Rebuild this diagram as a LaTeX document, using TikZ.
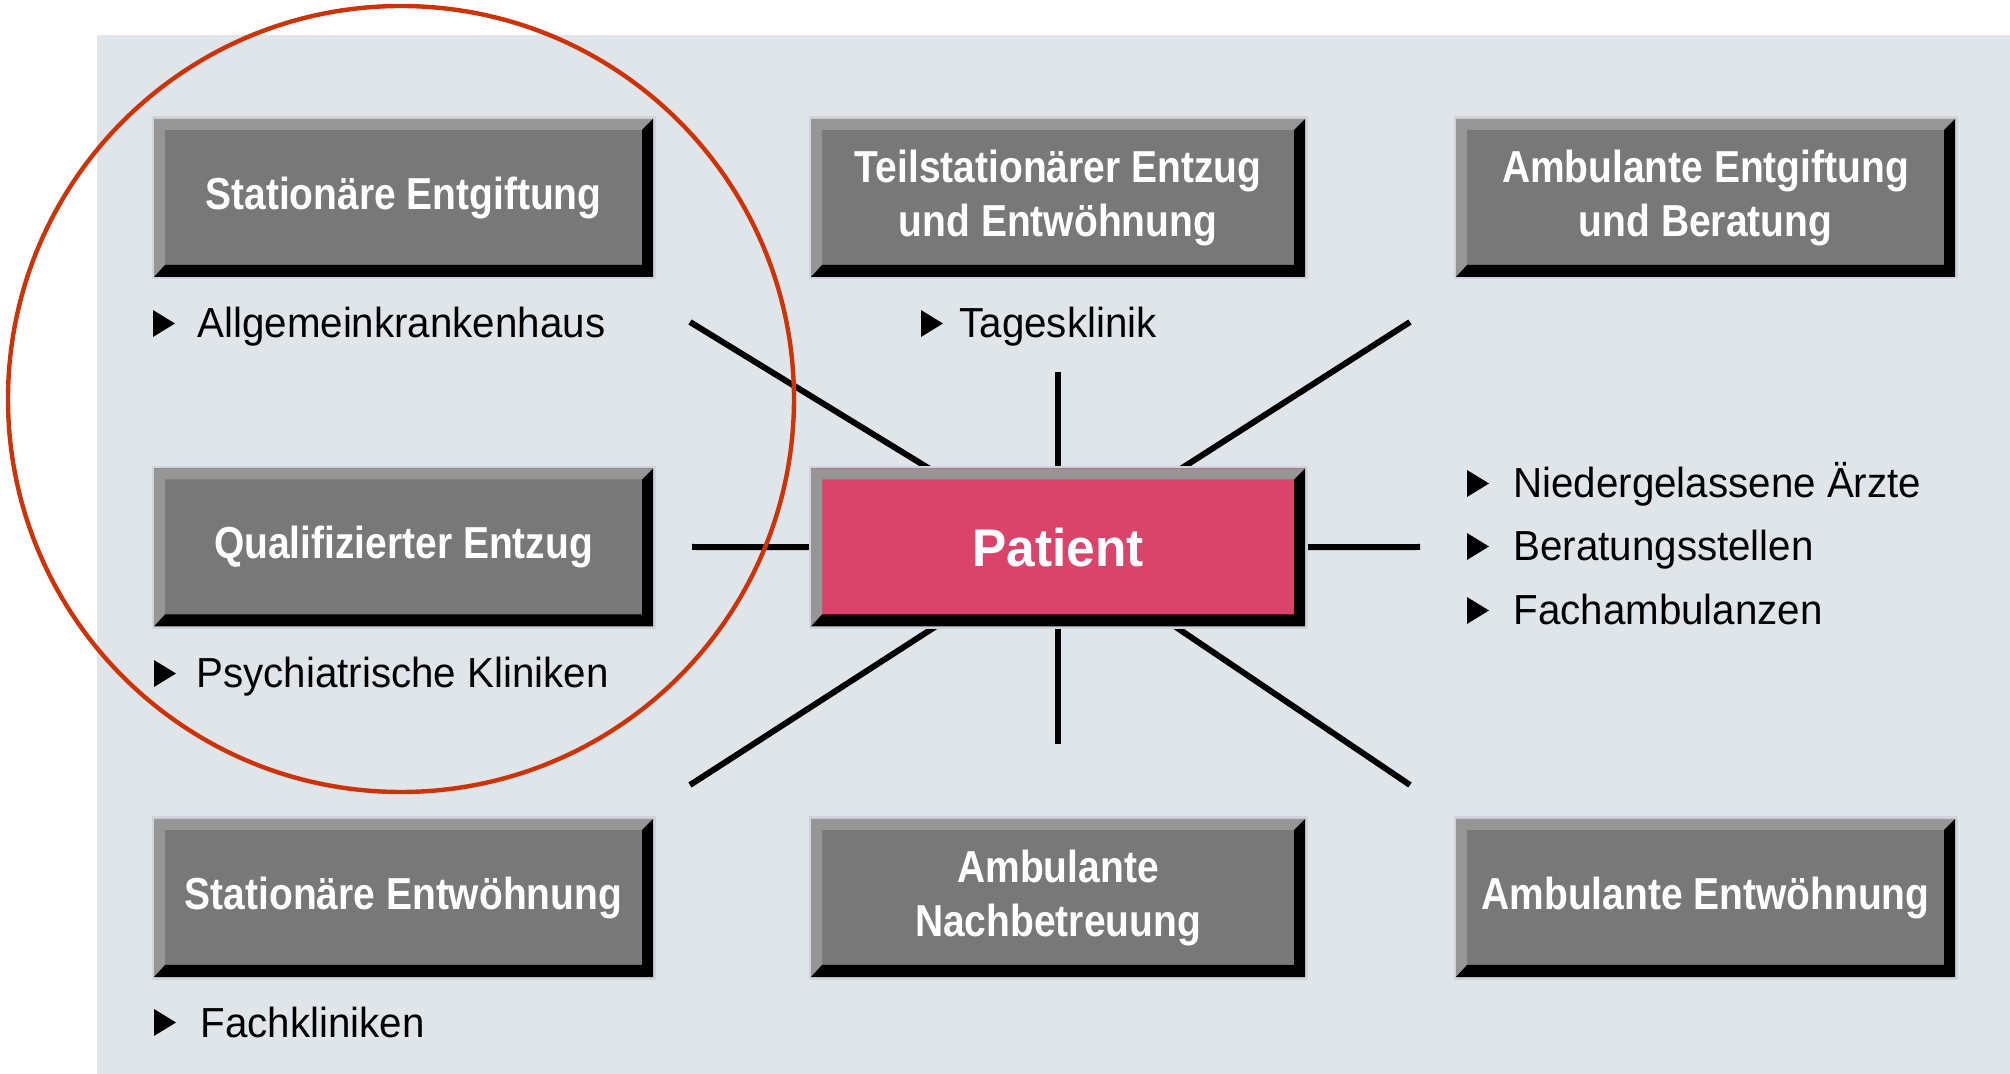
\documentclass[tikz,border=0pt]{standalone}
\usepackage{fontspec}
\setmainfont{Liberation Sans}
\newfontfamily\boxfont{Liberation Sans}[FakeStretch=0.87]
\newfontfamily\patfont{Liberation Sans}[FakeStretch=0.97]
\newfontfamily\listfont{Liberation Sans}[FakeStretch=0.96]
\definecolor{panel}{RGB}{224,229,233}
\definecolor{boxgray}{RGB}{120,120,120}
\definecolor{bevlight}{RGB}{150,150,150}
\definecolor{boxedge}{RGB}{208,212,216}
\definecolor{patpink}{RGB}{218,67,106}
\definecolor{ringred}{RGB}{204,52,8}
\tikzset{
  bevbox/.style={rectangle, inner sep=0pt, minimum width=249.5pt, minimum height=79pt,
    fill=boxgray, text=white, align=center,
    font=\boxfont\bfseries\fontsize{22.4}{27}\selectfont,
    preaction={draw=boxedge, line width=2.5pt},
    path picture={
      \fill[bevlight] (path picture bounding box.north west) -- (path picture bounding box.north east)
        -- ([xshift=-5.5pt,yshift=-5.5pt]path picture bounding box.north east)
        -- ([xshift=5.5pt,yshift=-5.5pt]path picture bounding box.north west)
        -- ([xshift=5.5pt,yshift=6pt]path picture bounding box.south west)
        -- (path picture bounding box.south west) -- cycle;
      \fill[black] (path picture bounding box.north east) -- (path picture bounding box.south east)
        -- (path picture bounding box.south west)
        -- ([xshift=5.5pt,yshift=6pt]path picture bounding box.south west)
        -- ([xshift=-5.5pt,yshift=6pt]path picture bounding box.south east)
        -- ([xshift=-5.5pt,yshift=-5.5pt]path picture bounding box.north east) -- cycle;
    }},
  patbox/.style={bevbox, fill=patpink, minimum width=247pt, font=\patfont\bfseries\fontsize{26.5}{30}\selectfont},
  spoke/.style={line width=3pt, black},
  listtext/.style={anchor=base west, inner sep=0pt, font=\listfont\fontsize{21}{25}\selectfont, text=black},
  bullet/.style={fill=black}
}
\newcommand\bulmark[2]{\fill[bullet] (#1,#2-28) -- (#1,#2-1) -- (#1+22,#2-14.5) -- cycle;}
\begin{document}
\begin{tikzpicture}[x=0.5pt,y=-0.5pt]
\useasboundingbox (0,0) rectangle (2010,1074);
\fill[white] (0,0) rectangle (2010,1074);
\fill[panel] (97,35) rectangle (2010,1074);

% spoke ends
\coordinate (eTL) at (690,322);
\coordinate (eT)  at (1058,372);
\coordinate (eTR) at (1410,322);
\coordinate (eL)  at (692,547);
\coordinate (eR)  at (1420,547);
\coordinate (eBL) at (690,785);
\coordinate (eB)  at (1058,744);
\coordinate (eBR) at (1410,785);
\coordinate (pc) at (1058,547.5);

\foreach \e in {eTL,eT,eTR,eL,eR,eBL,eB,eBR}
  \draw[spoke] (\e) -- (pc);

% boxes
\node[bevbox] (b1) at (403.5,198) {Stationäre Entgiftung};
\node[bevbox, minimum width=247pt] (b2) at (1058,198) {Teilstationärer Entzug\\und Entwöhnung};
\node[bevbox] (b3) at (1705.5,198) {Ambulante Entgiftung\\und Beratung};
\node[bevbox] (b4) at (403.5,547.5) {Qualifizierter Entzug};
\node[patbox] (patient) at (pc) {Patient};
\node[bevbox] (b6) at (403.5,898) {Stationäre Entwöhnung};
\node[bevbox, minimum width=247pt] (b7) at (1058,898) {Ambulante\\Nachbetreuung};
\node[bevbox] (b8) at (1705.5,898) {Ambulante Entwöhnung};

% lists
\bulmark{153}{338}
\node[listtext] (l1) at (197,338) {Allgemeinkrankenhaus};
\bulmark{921}{338}
\node[listtext] (l2) at (959,338) {Tagesklinik};
\bulmark{154}{688}
\node[listtext] (l3) at (196,688) {Psychiatrische Kliniken};
\bulmark{1467}{498}
\node[listtext] (l4) at (1513,498) {Niedergelassene Ärzte};
\bulmark{1467}{561}
\node[listtext] (l5) at (1513,561) {Beratungsstellen};
\bulmark{1467}{625}
\node[listtext] (l6) at (1513,625) {Fachambulanzen};
\bulmark{154}{1037}
\node[listtext] (l7) at (200,1037) {Fachkliniken};

% ring
\draw[ringred, line width=2.2pt] (401,399) circle (393);
\end{tikzpicture}
\end{document}
